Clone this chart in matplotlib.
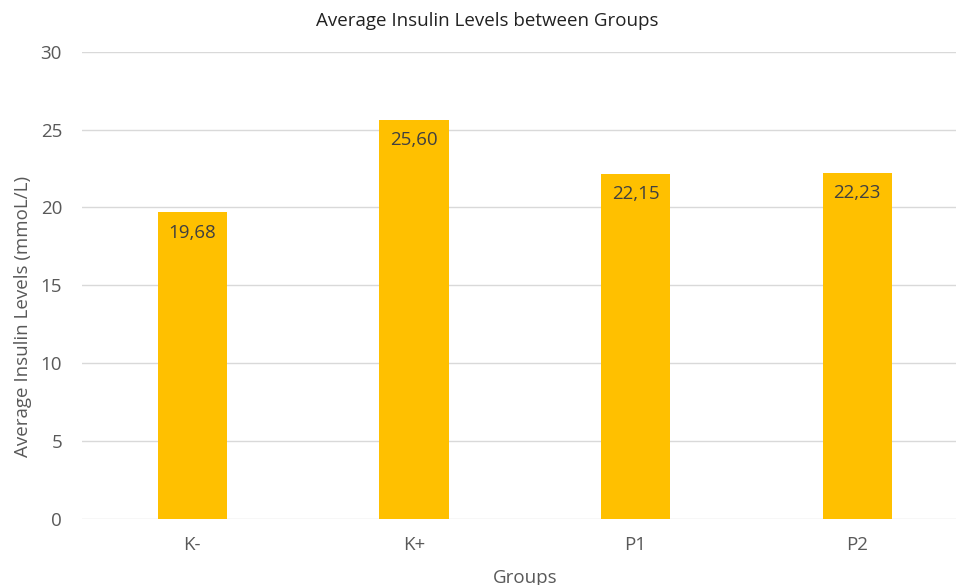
import matplotlib.pyplot as plt
import numpy as np

# data
groups = ['K-', 'K+', 'P1', 'P2']
insulin = [19.68, 25.60, 22.15, 22.23]
yticks = [0, 5, 10, 15, 20, 25, 30]

plt.rcParams['font.family'] = ['Open Sans', 'DejaVu Sans']

fig = plt.figure(figsize=(9.56, 5.85), dpi=100)
# axes spans a bit past the right edge, like the cropped original
ax = fig.add_axes([81.5 / 956, 66 / 585, 886.5 / 956, 467.3 / 585])

x = np.arange(len(groups))
bars = ax.bar(x, insulin, width=0.313, color='#FFC000', zorder=3)

# value labels just inside the top of each bar, decimal comma
for b, v in zip(bars, insulin):
    ax.annotate(f"{v:.2f}".replace('.', ','),
                xy=(b.get_x() + b.get_width() / 2, v),
                xytext=(0, -14.5), textcoords='offset points',
                ha='center', va='center', fontsize=13.5, color='#404040', zorder=4)

ax.set_xlim(-0.5, len(groups) - 0.5)
ax.set_ylim(0, 30)
ax.set_yticks(yticks)
ax.set_xticks(x)
ax.set_xticklabels(groups)
ax.grid(axis='y', color='#D9D9D9', linewidth=1.0, zorder=0)
for s in ax.spines.values():
    s.set_visible(False)
ax.tick_params(axis='both', length=0, labelsize=13.5, labelcolor='#595959')
ax.tick_params(axis='y', pad=14)
ax.tick_params(axis='x', pad=12)

ax.set_ylabel('Average Insulin Levels (mmoL/L)', fontsize=13.5, color='#595959')
ax.yaxis.set_label_coords(-0.0557, 0.433)
ax.set_xlabel('Groups', fontsize=13.5, color='#595959', labelpad=11)

fig.text(487.5 / 956, 1 - 21 / 585, 'Average Insulin Levels between Groups',
         ha='center', va='center', fontsize=13.5, color='#222222')

fig.savefig('out.png', dpi=100)
